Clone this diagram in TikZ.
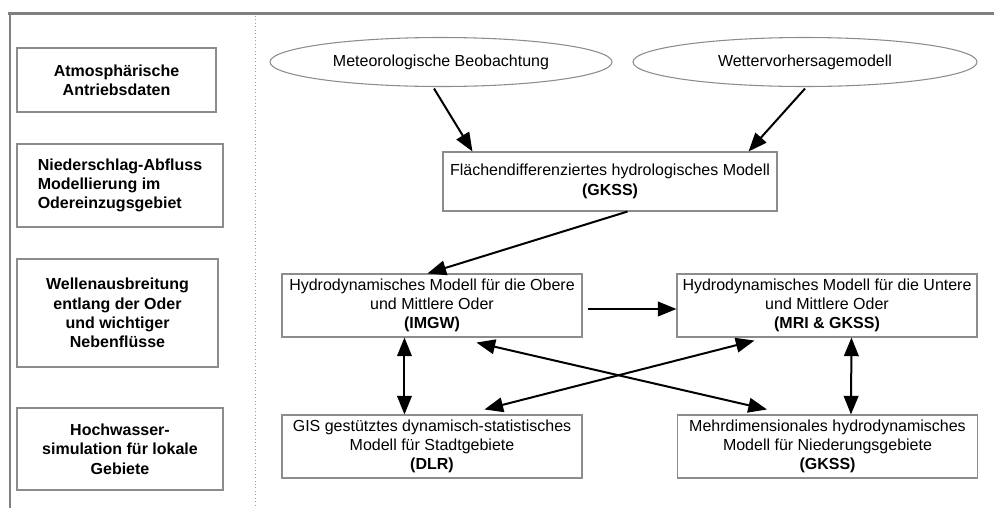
\documentclass[tikz,border=0pt]{standalone}
\usepackage{fontspec}
\setmainfont{Liberation Sans}
\usetikzlibrary{shapes.geometric,arrows.meta,calc}
\definecolor{framegray}{HTML}{808080}
\definecolor{boxgray}{HTML}{8C8C8C}
\definecolor{dotgray}{HTML}{9A9A9A}
\tikzset{
  lab/.style={draw=boxgray, line width=0.8pt, font=\fontsize{12}{14.5}\selectfont\bfseries, align=center, inner sep=0pt},
  mbox/.style={draw=boxgray, line width=0.8pt, font=\fontsize{12}{14.5}\selectfont, align=center, inner sep=0pt, minimum width=225pt, minimum height=47.25pt},
  ell/.style={ellipse, draw=boxgray, line width=0.8pt, font=\fontsize{12}{14.5}\selectfont, inner sep=0pt, minimum height=36.75pt},
  arr/.style={line width=1.5pt, -{Triangle[length=14pt,width=11pt]}},
  darr/.style={line width=1.5pt, {Triangle[length=14pt,width=11pt]}-{Triangle[length=14pt,width=11pt]}},
}
\begin{document}
\begin{tikzpicture}[x=0.75pt,y=-0.75pt]
\useasboundingbox (0,0) rectangle (994,508);
% frame
\draw[framegray, line width=2.2pt] (8,13.5) -- (994,13.5);
\draw[framegray, line width=2.2pt] (10,12.5) -- (10,508);
\draw[dotgray, line width=0.6pt, dotted] (255.5,16) -- (255.5,508);
% left labels
\node[lab, minimum width=149.25pt, minimum height=48pt] (l1) at (116.5,80) {Atmosphärische\\Antriebsdaten};
\node[lab, align=left, minimum width=154.5pt, minimum height=62.25pt] (l2) at (120,185.5) {Niederschlag-Abfluss\\Modellierung im\\Odereinzugsgebiet};
\node[lab, minimum width=150.75pt, minimum height=81pt] (l3) at (117.5,313) {Wellenausbreitung\\entlang der Oder\\und wichtiger\\Nebenflüsse};
\node[lab, minimum width=154.5pt, minimum height=61.5pt] (l4) at (120,449) {Hochwasser-\\simulation für lokale\\Gebiete};
% ellipses
\node[ell, minimum width=256.5pt] (e1) at (441,62) {Meteorologische Beobachtung};
\node[ell, minimum width=258pt] (e2) at (805,62) {Wettervorhersagemodell};
% model boxes
\node[mbox, minimum width=250.5pt, minimum height=44.25pt] (hyd) at (610,181.5) {Flächendifferenziertes hydrologisches Modell\\\textbf{(GKSS)}};
\node[mbox] (imgw) at (432,305.5) {Hydrodynamisches Modell für die Obere\\und Mittlere Oder\\\textbf{(IMGW)}};
\node[mbox] (mri) at (827,305.5) {Hydrodynamisches Modell für die Untere\\und Mittlere Oder\\\textbf{(MRI \& GKSS)}};
\node[mbox] (dlr) at (432,446.5) {GIS gestütztes dynamisch-statistisches\\Modell für Stadtgebiete\\\textbf{(DLR)}};
\node[mbox] (gk) at (827.5,446.5) {Mehrdimensionales hydrodynamisches\\Modell für Niederungsgebiete\\\textbf{(GKSS)}};
% connectors
\draw[arr] ($(e1.south)+(-7,1.5)$) -- ($(hyd.north west)+(30,0)$);
\draw[arr] ($(e2.south)+(0,1.5)$) -- ($(hyd.north east)+(-29,0)$);
\draw[arr] ($(hyd.south west)+(185,0)$) -- ($(imgw.north west)+(146,0)$);
\draw[arr] ($(imgw.east)+(5,3.5)$) -- ($(mri.west)+(0,3.5)$);
\draw[darr] ($(imgw.south west)+(123,0)$) -- ($(dlr.north west)+(123,0)$);
\draw[darr] ($(mri.south west)+(175,0)$) -- ($(gk.north west)+(174,0)$);
\draw[darr] ($(imgw.south west)+(195,5)$) -- ($(gk.north west)+(90,-5)$);
\draw[darr] ($(dlr.north west)+(203,-5)$) -- ($(mri.south west)+(78,3)$);
\end{tikzpicture}
\end{document}
